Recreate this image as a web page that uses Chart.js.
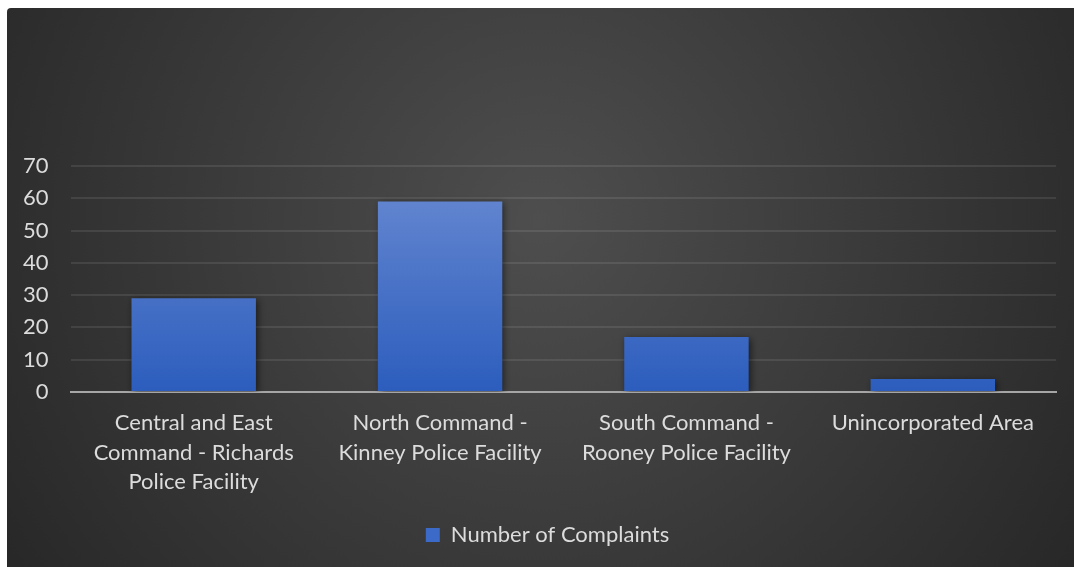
<!DOCTYPE html>
<html>
<head>
<meta charset="utf-8">
<script src="https://cdn.jsdelivr.net/npm/chart.js@4.4.0/dist/chart.umd.min.js"></script>
<style>
  html, body { margin: 0; padding: 0; background: #ffffff; }
  #wrap {
    position: absolute; left: 7px; top: 8px;
    width: 1067px; height: 559px;
    border-top-left-radius: 4px; overflow: hidden;
  }
</style>
</head>
<body>
<div id="wrap"><canvas id="myChart" width="1067" height="559"></canvas></div>
<script>
// chart data
const categories = [
	['Central and East', 'Command - Richards', 'Police Facility'],
	['North Command -', 'Kinney Police Facility'],
	['South Command -', 'Rooney Police Facility'],
	['Unincorporated Area']
];
const complaints = [29, 59, 17, 4];
const seriesName = 'Number of Complaints';
const yMax = 70;
const yStep = 10;

const textColor = '#dcdcdc';
const fontFamily = 'Lato, "Open Sans", sans-serif';

// dark radial background, like the office theme
const bgPlugin = {
	id: 'bg',
	beforeDraw(chart) {
		const {ctx, width, height} = chart;
		const g = ctx.createRadialGradient(width * 0.5, height * 0.38, 0, width * 0.5, height * 0.38, width * 0.62);
		g.addColorStop(0, '#4e4e4e');
		g.addColorStop(1, '#262626');
		ctx.save();
		ctx.fillStyle = g;
		ctx.fillRect(0, 0, width, height);
		ctx.restore();
	}
};

// soft shadow under the bars
const shadowPlugin = {
	id: 'barShadow',
	beforeDatasetsDraw(chart) {
		const ctx = chart.ctx;
		ctx.save();
		ctx.shadowColor = 'rgba(0,0,0,0.55)';
		ctx.shadowBlur = 7;
		ctx.shadowOffsetX = 2;
		ctx.shadowOffsetY = 2;
	},
	afterDatasetsDraw(chart) {
		chart.ctx.restore();
	}
};

// legend sits a bit right of the canvas centre in the original
const legendShift = {
	id: 'legendShift',
	afterLayout(chart) {
		if (chart.legend) {
			chart.legend.left += 19;
			chart.legend.right += 19;
		}
	}
};

const barFill = (context) => {
	const area = context.chart.chartArea;
	if (!area) return '#3f6cc8';
	const g = context.chart.ctx.createLinearGradient(0, area.top, 0, area.bottom);
	g.addColorStop(0, '#6a8bd2');
	g.addColorStop(1, '#2c5dbd');
	return g;
};

const config = {
	type: 'bar',
	data: {
		labels: categories,
		datasets: [{
			label: seriesName,
			data: complaints,
			backgroundColor: barFill,
			borderWidth: 0,
			categoryPercentage: 1,
			barPercentage: 0.505
		}]
	},
	options: {
		responsive: false,
		animation: false,
		devicePixelRatio: 1,
		layout: {
			padding: {left: -6, right: 18, top: 158, bottom: 11}
		},
		plugins: {
			tooltip: {enabled: false},
			title: {display: false},
			legend: {
				position: 'bottom',
				labels: {
					color: textColor,
					font: {family: fontFamily, size: 22},
					boxWidth: 14,
					boxHeight: 14,
					padding: 11,
					generateLabels: (chart) => [{
						text: seriesName,
						fillStyle: '#3c6ac8',
						strokeStyle: '#3c6ac8',
						lineWidth: 0,
						fontColor: textColor,
						datasetIndex: 0
					}]
				}
			}
		},
		scales: {
			x: {
				grid: {display: false, drawTicks: false},
				border: {display: true, color: '#a6a6a6', width: 2},
				ticks: {
					color: textColor,
					font: {family: fontFamily, size: 22, lineHeight: 1.32},
					padding: 17,
					maxRotation: 0,
					autoSkip: false
				}
			},
			y: {
				min: 0,
				max: yMax,
				grid: {color: 'rgba(255,255,255,0.09)', lineWidth: 2, drawTicks: false},
				border: {display: false},
				ticks: {
					stepSize: yStep,
					color: textColor,
					font: {family: fontFamily, size: 22},
					padding: 22
				}
			}
		}
	},
	plugins: [bgPlugin, shadowPlugin, legendShift]
};

const chartt = new Chart(document.getElementById('myChart'), config);
</script>
</body>
</html>
